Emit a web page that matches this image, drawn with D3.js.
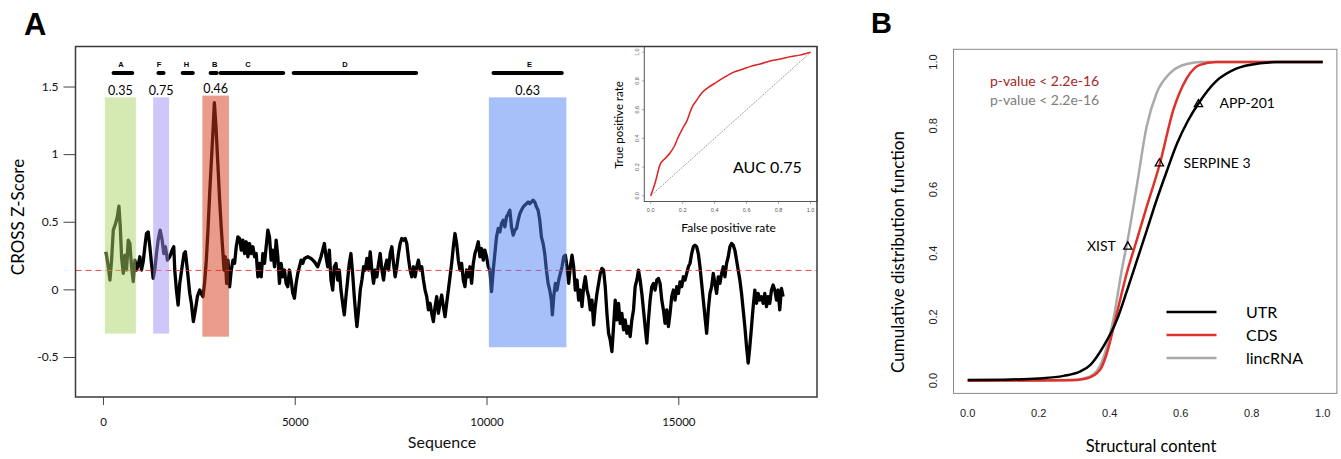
<!DOCTYPE html>
<html><head><meta charset="utf-8">
<script src="https://cdn.jsdelivr.net/npm/d3@7"></script>
<style>
body{margin:0;background:#fff}
svg{display:block}
text{font-family:Lato,'Open Sans',sans-serif}
</style>
</head><body>
<svg id="c" width="1341" height="459"></svg>
<script>
// ---------------- DATA ----------------
// Panel A: CROSS Z-score profile along the sequence [position, z-score]
const crossProfile = [
[78,.278],[139,.167],[182,.069],[225,.216],[269,.438],[329,.487],[373,.536],[416,.615],[451,.462],[485,.241],[529,.118],[572,.253],[615,.143],[659,.364],[702,.339],[745,.167],[789,.057],[832,.216],[875,.143],[919,.179],[962,.241],[1005,.143],[1049,.204],[1092,.315],[1135,.413],[1179,.425],[1222,.315],[1265,.192],[1309,.081],[1352,.143],[1395,.265],[1439,.364],[1491,.438],[1543,.364],[1586,.265],[1629,.315],[1681,.216],[1742,.241],[1803,.290],[1846,.315],[1872,.143],[1915,-.005],[1959,-.116],[2002,.044],[2063,.167],[2115,.265],[2149,.278],[2201,.143],[2262,-.029],[2305,-.103],[2357,-.238],[2409,-.152],[2461,-.054],[2522,-.005],[2583,-.042],[2609,-.054],[2650,.05],[2695,.216],[2740,.45],[2782,.708],[2825,.94],[2869,1.175],[2905,1.38],[2947,1.20],[2995,.93],[3042,.66],[3085,.45],[3129,.265],[3155,.143],[3189,.241],[3224,.044],[3259,.216],[3302,.019],[3345,.143],[3389,.216],[3432,.192],[3475,.315],[3519,.388],[3562,.376],[3605,.290],[3649,.364],[3692,.265],[3735,.352],[3779,.241],[3822,.339],[3865,.265],[3909,.315],[3952,.241],[3995,.265],[4039,.093],[4082,.192],[4125,.093],[4169,.265],[4212,.192],[4255,.315],[4299,.438],[4342,.388],[4385,.216],[4429,.290],[4472,.167],[4515,.364],[4559,.241],[4602,.044],[4645,.192],[4689,.093],[4732,.143],[4775,.044],[4819,.020],[4862,.143],[4905,.069],[4949,-.029],[4992,-.066],[5035,.044],[5079,.118],[5122,.167],[5165,.216],[5209,.192],[5252,.229],[5339,.241],[5425,.229],[5512,.204],[5599,.167],[5685,.241],[5772,.339],[5815,.241],[5859,.167],
[5902,.290],[5945,.069],[5989,-.005],[6032,.167],[6075,.192],[6119,.069],[6162,.143],[6205,-.005],[6249,-.103],[6292,-.189],[6335,-.054],[6379,.069],[6422,.192],[6465,.265],[6509,.118],[6552,-.054],[6595,-.202],[6621,-.275],[6665,-.152],[6708,-.005],[6751,.069],[6795,.167],[6838,.143],[6881,.229],[6925,.143],[6968,.278],[7011,.143],[7055,.044],[7098,.143],[7141,.093],[7185,.192],[7228,.265],[7271,.143],[7315,.069],[7358,.167],[7401,.216],[7445,.143],[7488,.265],[7531,.315],[7575,.192],[7618,.093],[7661,.167],[7705,.265],[7748,.339],[7791,.376],[7835,.364],[7878,.376],[7921,.339],[7965,.229],[8008,.143],[8051,.093],[8095,.167],[8138,.093],[8181,.167],[8225,.216],[8268,.143],[8311,.167],[8355,.069],[8398,-.005],[8441,-.054],[8485,-.152],[8528,-.103],[8571,-.177],[8615,-.238],[8658,-.128],[8701,-.054],[8745,-.177],[8788,-.103],[8831,-.042],[8875,-.128],[8918,-.202],[8961,-.103],[9005,-.005],[9048,.093],[9091,.192],[9135,.315],[9178,.413],[9221,.339],[9265,.216],[9308,.143],[9351,.192],[9395,.069],[9438,.020],[9481,.143],[9525,.093],[9568,.167],[9611,.044],[9655,.192],[9698,.265],[9741,.302],[9785,.352],[9828,.241],[9871,.302],[9915,.216],[9958,.290],[10001,.241],[10045,.167],[10088,.143],[10131,-.017],[10175,.143],[10218,.265],[10261,.388],[10305,.450],[10348,.425],[10391,.487],[10435,.511],[10478,.462],[10521,.536],[10565,.560],[10608,.585],[10651,.462],[10695,.401],[10738,.438],[10781,.450],[10825,.511],[10868,.560],[10911,.585],[10955,.610],[10998,.622],[11041,.634],[11085,.646],[11128,.634],[11171,.646],[11215,.659],[11258,.646],[11301,.610],[11345,.585],[11388,.511],[11431,.388],[11475,.339],[11518,.265],[11561,.143],[11605,.044],[11648,-.005],[11691,-.079],[11717,-.189],[11752,-.054],[11795,.044],[11838,-.005],[11882,.069],[11925,.118],[11968,.167],[12012,.241],[12055,.253],
[12099,.167],[12142,.044],[12185,.167],[12229,.253],[12272,.167],[12315,-.005],[12359,.069],[12402,-.079],[12445,-.005],[12489,-.128],[12532,.020],[12575,.093],[12619,-.005],[12662,-.054],[12705,-.152],[12749,-.079],[12792,-.263],[12835,-.128],[12879,-.030],[12922,.044],[12965,.118],[13009,.155],[13052,.142],[13095,.020],[13139,-.177],[13182,-.325],[13225,-.374],[13269,-.460],[13312,-.275],[13355,-.079],[13399,-.226],[13442,-.103],[13485,-.251],[13529,-.177],[13572,-.300],[13615,-.226],[13659,-.325],[13702,-.275],[13745,-.349],[13789,-.226],[13832,-.152],[13875,.020],[13919,.069],[13962,.142],[14005,.069],[14049,-.030],[14092,-.152],[14135,-.275],[14179,-.398],[14222,-.226],[14265,-.079],[14309,.020],[14352,.044],[14395,-.005],[14439,.069],[14482,.081],[14525,.044],[14569,-.079],[14612,-.152],[14655,-.251],[14699,-.152],[14742,-.275],[14785,-.177],[14829,-.054],[14872,-.005],[14915,-.079],[14959,.020],[15002,-.030],[15045,.056],[15089,.020],[15132,.093],[15175,.069],[15219,.118],[15262,.167],[15305,.192],[15349,.265],[15392,.315],[15435,.327],[15479,.315],[15522,.265],[15565,.167],[15609,.044],[15652,-.079],[15695,-.202],[15739,-.325],[15782,-.152],[15825,-.030],[15869,.020],[15912,.118],[15955,.044],[15999,-.030],[16042,.093],[16085,.044],[16129,.118],[16172,.167],[16215,.093],[16259,.192],[16302,.241],[16345,.315],[16389,.339],[16432,.327],[16475,.290],[16519,.216],[16562,.142],[16605,.069],[16649,-.030],[16692,-.152],[16735,-.275],[16779,-.423],[16822,-.546],[16865,-.423],[16909,-.275],[16952,-.128],[16995,-.005],[17039,-.103],[17082,-.030],[17125,-.079],[17169,-.054],[17212,-.103],[17255,-.030],[17299,-.128],[17342,-.054],[17385,-.103],[17429,-.005],[17472,.032],[17515,-.005],[17559,-.079],[17602,-.005],[17645,-.152],[17689,.007],[17732,-.054]
];
const zThreshold = 0.14;

// highlighted regions
const regionStart = [50, 1309, 2592, 10062];
const regionEnd   = [858, 1725, 3285, 12082];
const regionLow   = [-0.327, -0.327, -0.35, -0.428];
const regionHigh  = [1.42, 1.42, 1.433, 1.42];
const regionScore = ["0.35", "0.75", "0.46", "0.63"];

// domain segments at top
const segName    = ["A", "F", "H", "B", "C", "D", "E"];
const segStart   = [226, 1396, 2028, 2756, 3016, 4922, 10132];
const segEnd     = [814, 1630, 2392, 3016, 4750, 8216, 12012];
const segLabelAt = [468, 1464, 2176, 2912, 3778, 6310, 11120];
const segLevel = 1.6;

const seqTicks = [0, 5000, 10000, 15000];
const zTicks = [1.5, 1, 0.5, 0, -0.5];
const zTickLabels = ["1.5", "1", "0.5", "0", "-0.5"];

// inset ROC
const rocFPR = [0, 0.027, 0.058, 0.09, 0.12, 0.15, 0.173, 0.2, 0.225, 0.256, 0.29, 0.319, 0.36, 0.41, 0.46, 0.516, 0.57, 0.62, 0.69, 0.766, 0.82, 0.87, 0.93, 1];
const rocTPR = [0, 0.087, 0.215, 0.26, 0.296, 0.35, 0.41, 0.47, 0.518, 0.611, 0.67, 0.716, 0.755, 0.79, 0.825, 0.86, 0.88, 0.90, 0.92, 0.944, 0.955, 0.968, 0.98, 1];
const rocTicks = [0, 0.2, 0.4, 0.6, 0.8, 1.0];
const aucLabel = "AUC 0.75";

// Panel B: cumulative distributions
const utrX  = [0, 0.1, 0.2, 0.27, 0.316, 0.345, 0.382, 0.42, 0.448, 0.476, 0.504, 0.53, 0.56, 0.59, 0.62, 0.65, 0.70, 0.758, 0.823, 0.87, 1.0];
const utrY  = [0.002, 0.003, 0.007, 0.015, 0.028, 0.049, 0.107, 0.19, 0.28, 0.375, 0.47, 0.56, 0.655, 0.745, 0.815, 0.870, 0.940, 0.980, 0.996, 1.0, 1.0];
const cdsX  = [0, 0.28, 0.335, 0.373, 0.392, 0.42, 0.448, 0.476, 0.50, 0.542, 0.579, 0.617, 0.654, 0.70, 1.0];
const cdsY  = [0, 0.001, 0.007, 0.034, 0.086, 0.211, 0.337, 0.44, 0.53, 0.684, 0.849, 0.949, 0.991, 1.0, 1.0];
const lincX = [0, 0.3, 0.345, 0.38, 0.41, 0.434, 0.452, 0.476, 0.504, 0.532, 0.57, 0.617, 0.66, 1.0];
const lincY = [0, 0.002, 0.013, 0.065, 0.19, 0.347, 0.45, 0.609, 0.797, 0.902, 0.965, 0.994, 1.0, 1.0];
const seriesNames = ["UTR", "CDS", "lincRNA"];
const markerName = ["APP-201", "SERPINE 3", "XIST"];
const markerX = [0.650, 0.540, 0.451];
const markerY = [0.870, 0.684, 0.423];
const pvalueLabels = ["p-value < 2.2e-16", "p-value < 2.2e-16"];
const unitTicks = [0, 0.2, 0.4, 0.6, 0.8, 1.0];

// ---------------- DRAW ----------------
const svg = d3.select("#c");
const f1 = d3.format(".1f");

// ===== Panel A =====
const xA = d3.scaleLinear().domain([-716, 18616]).range([75.5, 817]);
const yA = d3.scaleLinear().domain([-0.796, 1.796]).range([397, 46.5]);

svg.append("text").attr("x", 24).attr("y", 35).text("A")
  .style("font-family", "'Liberation Sans',Arial,sans-serif").style("font-weight", "bold").style("font-size", "31px");

// profile line
svg.append("path").datum(crossProfile)
  .attr("d", d3.line().x(d => xA(d[0])).y(d => yA(d[1])))
  .attr("fill", "none").attr("stroke", "#000").attr("stroke-width", 3.3)
  .attr("stroke-linejoin", "round");

// threshold
svg.append("line").attr("x1", 75.5).attr("x2", 817)
  .attr("y1", yA(zThreshold)).attr("y2", yA(zThreshold))
  .attr("stroke", "#f03030").attr("stroke-width", 0.9).attr("stroke-dasharray", "6,4");

// regions (semi-transparent)
const regionFill = ["#a9d565", "#a18df5", "#d53919", "#5181f5"];
svg.selectAll("rect.reg").data(regionStart).enter().append("rect").attr("class", "reg")
  .attr("x", (d, i) => xA(d)).attr("width", (d, i) => xA(regionEnd[i]) - xA(d))
  .attr("y", (d, i) => yA(regionHigh[i])).attr("height", (d, i) => yA(regionLow[i]) - yA(regionHigh[i]))
  .attr("fill", (d, i) => regionFill[i]).attr("fill-opacity", 0.5);
svg.selectAll("text.rs").data(regionScore).enter().append("text").attr("class", "rs")
  .attr("x", (d, i) => (xA(regionStart[i]) + xA(regionEnd[i])) / 2)
  .attr("y", (d, i) => yA(regionHigh[i]) - 2.5)
  .attr("text-anchor", "middle").style("font-size", "12.5px").text(d => d);

// segments
svg.selectAll("line.seg").data(segName).enter().append("line").attr("class", "seg")
  .attr("x1", (d, i) => xA(segStart[i]) + 2).attr("x2", (d, i) => xA(segEnd[i]) - 2)
  .attr("y1", yA(segLevel)).attr("y2", yA(segLevel))
  .attr("stroke", "#000").attr("stroke-width", 4.2).attr("stroke-linecap", "round");
svg.selectAll("text.seg").data(segName).enter().append("text").attr("class", "seg")
  .attr("x", (d, i) => xA(segLabelAt[i])).attr("y", yA(segLevel) - 6)
  .attr("text-anchor", "middle")
  .style("font-family", "'Liberation Sans',Arial,sans-serif").style("font-weight", "bold").style("font-size", "7.5px")
  .text(d => d);

// axes
const axA = svg.append("g").attr("transform", "translate(75.5,0)")
  .call(d3.axisLeft(yA).tickValues(zTicks).tickFormat((d, i) => zTickLabels[i]).tickSize(12).tickPadding(5));
axA.select(".domain").remove();
axA.selectAll("line").attr("stroke", "#444");
axA.selectAll("text").style("font-family", "Lato,sans-serif").style("font-size", "12px").attr("fill", "#111");

const axX = svg.append("g").attr("transform", "translate(0,397)")
  .call(d3.axisBottom(xA).tickValues(seqTicks).tickFormat(d3.format("d")).tickSize(8).tickPadding(13));
axX.select(".domain").remove();
axX.selectAll("line").attr("stroke", "#444");
axX.selectAll("text").style("font-family", "Lato,sans-serif").style("font-size", "11.5px").attr("fill", "#111");

svg.append("text").attr("transform", "translate(24,217) rotate(-90)").attr("text-anchor", "middle")
  .style("font-size", "17px").text("CROSS Z-Score");
svg.append("text").attr("x", 442).attr("y", 448).attr("text-anchor", "middle")
  .style("font-size", "16px").attr("fill", "#111").text("Sequence");

// inset ROC
const xR = d3.scaleLinear().domain([-0.04, 1.04]).range([644.3, 817]);
const yR = d3.scaleLinear().domain([-0.04, 1.04]).range([201.5, 46.5]);
svg.append("rect").attr("x", 644.3).attr("y", 46.5).attr("width", 172.7).attr("height", 155)
  .attr("fill", "#fff").attr("stroke", "#555").attr("stroke-width", 1);
svg.append("line").attr("x1", xR(0)).attr("y1", yR(0)).attr("x2", xR(1)).attr("y2", yR(1))
  .attr("stroke", "#666").attr("stroke-width", 0.8).attr("stroke-dasharray", "1.2,1.2");
svg.append("path").datum(rocFPR.map((d, i) => [d, rocTPR[i]]))
  .attr("d", d3.line().x(d => xR(d[0])).y(d => yR(d[1])).curve(d3.curveMonotoneX))
  .attr("fill", "none").attr("stroke", "#dd2222").attr("stroke-width", 1.5);
svg.selectAll("line.rtx").data(rocTicks).enter().append("line").attr("class", "rtx")
  .attr("x1", d => xR(d)).attr("x2", d => xR(d)).attr("y1", 201.5).attr("y2", 204)
  .attr("stroke", "#777").attr("stroke-width", 0.6);
svg.selectAll("line.rty").data(rocTicks).enter().append("line").attr("class", "rty")
  .attr("y1", d => yR(d)).attr("y2", d => yR(d)).attr("x1", 644.3).attr("x2", 641.8)
  .attr("stroke", "#777").attr("stroke-width", 0.6);
svg.selectAll("text.rtx").data(rocTicks).enter().append("text").attr("class", "rtx")
  .attr("x", d => xR(d)).attr("y", 211.5).attr("text-anchor", "middle")
  .style("font-family", "'Liberation Sans',Arial,sans-serif").style("font-size", "5.5px").attr("fill", "#555").text(d => f1(d));
svg.selectAll("text.rty").data(rocTicks).enter().append("text").attr("class", "rty")
  .attr("transform", d => `translate(638.5,${yR(d)}) rotate(-90)`).attr("text-anchor", "middle")
  .style("font-family", "'Liberation Sans',Arial,sans-serif").style("font-size", "5.5px").attr("fill", "#555").text(d => f1(d));
svg.append("text").attr("transform", "translate(623,125) rotate(-90)").attr("text-anchor", "middle")
  .style("font-size", "11.5px").text("True positive rate");
svg.append("text").attr("x", 728.5).attr("y", 231.5).attr("text-anchor", "middle")
  .style("font-size", "12px").text("False positive rate");
svg.append("text").attr("x", 733).attr("y", 173.3).style("font-size", "16px").text(aucLabel);

// main box
svg.append("rect").attr("x", 75.5).attr("y", 46.5).attr("width", 741.5).attr("height", 350.5)
  .attr("fill", "none").attr("stroke", "#3a3a3a").attr("stroke-width", 1.5);

// ===== Panel B =====
const xB = d3.scaleLinear().domain([-0.04, 1.04]).range([953.5, 1336.9]);
const yB = d3.scaleLinear().domain([-0.04, 1.04]).range([393.4, 49.3]);

svg.append("text").attr("x", 871).attr("y", 33).text("B")
  .style("font-family", "'Liberation Sans',Arial,sans-serif").style("font-weight", "bold").style("font-size", "29px");

svg.append("rect").attr("x", 953.5).attr("y", 49.3).attr("width", 383.4).attr("height", 344.1)
  .attr("fill", "none").attr("stroke", "#888").attr("stroke-width", 1);

const lineB = d3.line().x(d => xB(d[0])).y(d => yB(d[1])).curve(d3.curveMonotoneX);
const seriesData = [
  {name: seriesNames[2], xs: lincX, ys: lincY, color: "#aaaaaa"},
  {name: seriesNames[1], xs: cdsX, ys: cdsY, color: "#e0302a"},
  {name: seriesNames[0], xs: utrX, ys: utrY, color: "#000000"}
];
seriesData.forEach(s => {
  svg.append("path").datum(s.xs.map((x, i) => [x, s.ys[i]]))
    .attr("d", lineB).attr("fill", "none").attr("stroke", s.color).attr("stroke-width", 2.5);
});

// ticks
svg.selectAll("text.bx").data(unitTicks).enter().append("text").attr("class", "bx")
  .attr("x", d => xB(d)).attr("y", 417).attr("text-anchor", "middle")
  .style("font-family", "'Liberation Sans',Arial,sans-serif").style("font-size", "11px").attr("fill", "#222").text(d => f1(d));
svg.selectAll("text.by").data(unitTicks).enter().append("text").attr("class", "by")
  .attr("transform", d => `translate(937,${yB(d)}) rotate(-90)`).attr("text-anchor", "middle")
  .style("font-family", "'Liberation Sans',Arial,sans-serif").style("font-size", "11px").attr("fill", "#222").text(d => f1(d));

svg.append("text").attr("x", 1151).attr("y", 452).attr("text-anchor", "middle")
  .style("font-size", "16.5px").text("Structural content");
svg.append("text").attr("transform", "translate(904,252) rotate(-90)").attr("text-anchor", "middle")
  .style("font-size", "17px").text("Cumulative distribution function");

// p-values
svg.append("text").attr("x", 990).attr("y", 86).style("font-size", "14px").attr("fill", "#a32828").text(pvalueLabels[0]);
svg.append("text").attr("x", 990).attr("y", 105).style("font-size", "14px").attr("fill", "#7d7d7d").text(pvalueLabels[1]);

// markers
const tri = d3.symbol().type(d3.symbolTriangle).size(30);
markerName.forEach((n, i) => {
  svg.append("path").attr("d", tri).attr("transform", `translate(${xB(markerX[i])},${yB(markerY[i]) + 0.8})`)
    .attr("fill", "none").attr("stroke", "#000").attr("stroke-width", 1.3);
  const left = i === 2;
  svg.append("text").attr("x", xB(markerX[i]) + (left ? -12 : (i === 0 ? 21 : 24)))
    .attr("y", yB(markerY[i]) + 5).attr("text-anchor", left ? "end" : "start")
    .style("font-size", "14px").text(n);
});

// legend
const legY = [312, 335, 358];
const legColor = ["#000000", "#e0302a", "#aaaaaa"];
seriesNames.forEach((n, i) => {
  svg.append("line").attr("x1", 1166.5).attr("x2", 1216.5).attr("y1", legY[i]).attr("y2", legY[i])
    .attr("stroke", legColor[i]).attr("stroke-width", 2.6);
  svg.append("text").attr("x", 1246).attr("y", legY[i] + 5.5).style("font-size", "16px").text(n);
});
</script>
</body></html>
